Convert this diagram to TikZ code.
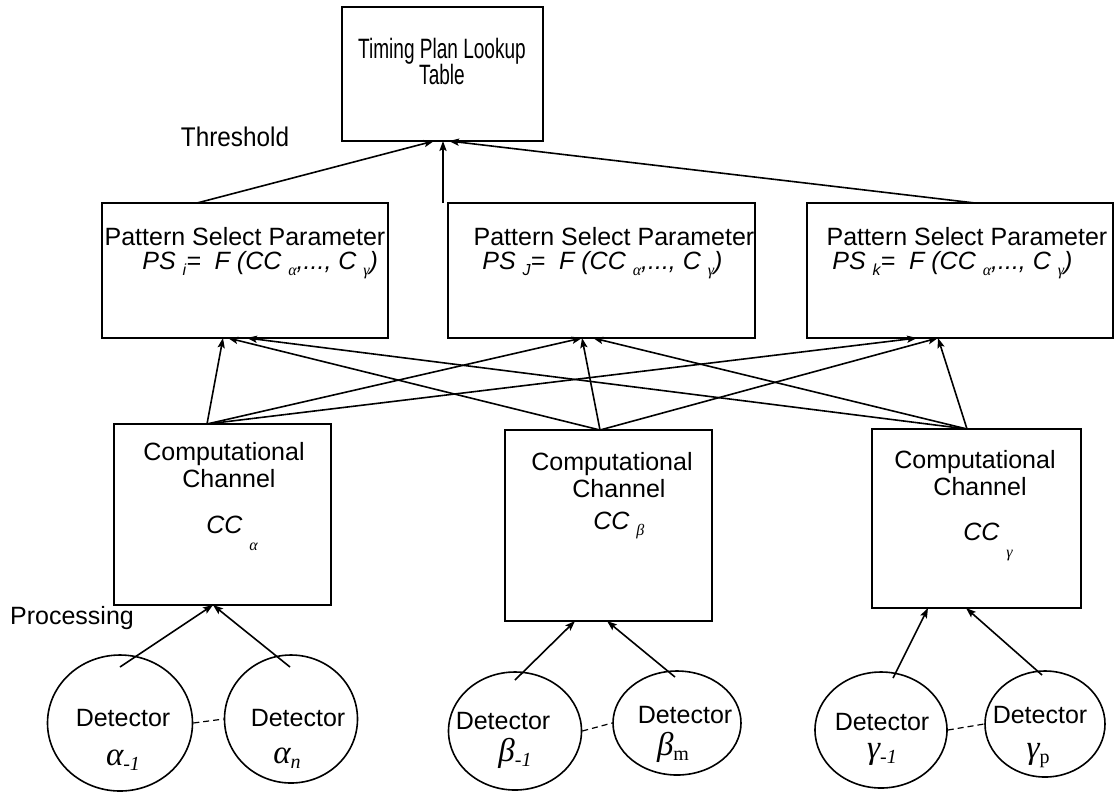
\documentclass[tikz,border=0pt]{standalone}
\usepackage{fontspec}
\setmainfont{Liberation Sans}
\newfontfamily\grk{Liberation Serif}
\newfontfamily\narrowfont[FakeStretch=0.68]{Liberation Sans}
\newfontfamily\semifont[FakeStretch=0.9]{Liberation Sans}
\usetikzlibrary{arrows.meta,shapes.geometric,fit}
\newcommand{\lo}[1]{\raisebox{-0.5ex}{\fontsize{8}{8}\selectfont #1}}
\newcommand{\llo}[1]{\raisebox{-1.3ex}{\fontsize{8}{8}\selectfont #1}}
\newcommand{\glo}[1]{\raisebox{-0.35ex}{\fontsize{10}{10}\selectfont #1}}
\begin{document}
\begin{tikzpicture}[x=0.5pt,y=-0.5pt,
  box/.style={draw,line width=0.9pt,inner sep=0pt,rectangle},
  det/.style={draw,line width=0.8pt,ellipse,inner sep=0pt},
  txt/.style={inner sep=0pt,anchor=base,font=\fontsize{12.5}{14}\selectfont},
  ftxt/.style={txt,anchor=base west,text height=8.5pt,text depth=1.5pt},
  gtxt/.style={inner sep=0pt,anchor=base,font=\fontsize{16.5}{17}\selectfont\grk\itshape},
  arr/.style={-{Stealth[length=5pt,width=3.6pt,inset=1pt]},line width=0.8pt},
  dashlink/.style={line width=0.6pt,dash pattern=on 3pt off 2pt}]
\useasboundingbox (0,0) rectangle (1118,794);

% top box
\node[box,fit={(342,7) (543,141)}] (tp) {};
\node[txt] (tpt1) at (442,58) {\narrowfont\fontsize{14}{15}\selectfont Timing Plan Lookup};
\node[txt] (tpt2) at (442,84) {\narrowfont\fontsize{14}{15}\selectfont Table};
\node[txt] (thr) at (235,146) {\semifont\fontsize{13.5}{14}\selectfont Threshold};

% pattern select boxes
\node[box,fit={(102,203) (388,338)}] (psi) {};
\node[box,fit={(448,203) (755,338)}] (psj) {};
\node[box,fit={(807,203) (1113,338)}] (psk) {};
\node[txt] (psi1) at (245,245) {Pattern Select Parameter};
\node[txt] (psj1) at (614,245) {Pattern Select Parameter};
\node[txt] (psk1) at (967,245) {Pattern Select Parameter};
\node[ftxt] (psi2) at (142,269) {\itshape PS \lo{i}=\ \ F (CC \lo{\grk α},..., C \lo{\grk γ})};
\node[ftxt] (psj2) at (482,269) {\itshape PS \lo{J}=\ \ F (CC \lo{\grk α},..., C \lo{\grk γ})};
\node[ftxt] (psk2) at (832,269) {\itshape PS \lo{k}=\ \ F (CC \lo{\grk α},..., C \lo{\grk γ})};

% computational channel boxes
\node[box,fit={(114,424) (331,605)}] (cca) {};
\node[box,fit={(505,430) (712,621)}] (ccb) {};
\node[box,fit={(872,429) (1081,608)}] (ccg) {};
\node[txt] (cca1) at (224,460) {Computational};
\node[txt] (cca2) at (229,487) {Channel};
\node[txt,anchor=base west] (cca3) at (206,533) {\itshape CC \llo{\grk α}};
\node[txt] (ccb1) at (612,470) {Computational};
\node[txt] (ccb2) at (619,497) {Channel};
\node[txt,anchor=base west] (ccb3) at (593,529) {\itshape CC \lo{\grk β}};
\node[txt] (ccg1) at (975,468) {Computational};
\node[txt] (ccg2) at (980,495) {Channel};
\node[txt,anchor=base west] (ccg3) at (963,540) {\itshape CC \llo{\grk γ}};

% detectors
\node[det,minimum width=72.5pt,minimum height=68pt] (da1) at (120,723) {};
\node[det,minimum width=66.5pt,minimum height=64pt] (dan) at (291,719) {};
\node[det,minimum width=66.5pt,minimum height=59pt] (db1) at (515,731) {};
\node[det,minimum width=64pt,minimum height=52pt] (dbm) at (677,723) {};
\node[det,minimum width=66pt,minimum height=58pt] (dg1) at (881,730) {};
\node[det,minimum width=60pt,minimum height=53pt] (dgp) at (1045,724) {};
\node[txt] (da1t) at (123,726) {Detector};
\node[gtxt] (da1s) at (123,765) {α\glo{-1}};
\node[txt] (dant) at (298,726) {Detector};
\node[gtxt] (dans) at (287,763) {α\glo{n}};
\node[txt] (db1t) at (503,729) {Detector};
\node[gtxt] (db1s) at (515,761) {β\glo{-1}};
\node[txt] (dbmt) at (685,723) {Detector};
\node[gtxt] (dbms) at (673,755) {β\glo{\upshape m}};
\node[txt] (dg1t) at (882,730) {Detector};
\node[gtxt] (dg1s) at (882,758) {γ\glo{-1}};
\node[txt] (dgpt) at (1040,723) {Detector};
\node[gtxt] (dgps) at (1038,758) {γ\glo{\upshape p}};
\node[txt] (proc) at (72,624) {Processing};

% ports
\coordinate (tpa) at (434,141);
\coordinate (tpb) at (443,141);
\coordinate (tpc) at (449,141);
\coordinate (psitop) at (197,203);
\coordinate (psjtop) at (443,203);
\coordinate (psktop) at (975,203);
\coordinate (pia) at (223,338);
\coordinate (pib) at (228,338);
\coordinate (pic) at (247,338);
\coordinate (pja) at (582,338);
\coordinate (pjb) at (593,338);
\coordinate (pka) at (917,338);
\coordinate (pkb) at (938,338);
\coordinate (catop) at (207,424);
\coordinate (cbtop) at (600,430);
\coordinate (cgtop) at (967,429);
\coordinate (cabot) at (213,605);
\coordinate (cbbot1) at (575,621);
\coordinate (cbbot2) at (607,621);
\coordinate (cgbot1) at (928,608);
\coordinate (cgbot2) at (966,608);
\coordinate (da1p) at (120,667);
\coordinate (danp) at (290,667);
\coordinate (db1p) at (515,680);
\coordinate (dbmp) at (675,677);
\coordinate (dg1p) at (893,678);
\coordinate (dgpp) at (1042,675);

% PS -> top
\draw[arr] (psitop) -- (tpa);
\draw[arr] (psjtop) -- (tpb);
\draw[arr] (psktop) -- (tpc);

% CC -> PS
\draw[arr] (catop) -- (pia);
\draw[arr] (catop) -- (pja);
\draw[arr] (catop) -- (pka);
\draw[arr] (cbtop) -- (pib);
\draw[arr] (cbtop) -- (pja);
\draw[arr] (cbtop) -- (pkb);
\draw[arr] (cgtop) -- (pic);
\draw[arr] (cgtop) -- (pjb);
\draw[arr] (cgtop) -- (pkb);

% detectors -> CC
\draw[arr] (da1p) -- (cabot);
\draw[arr] (danp) -- (cabot);
\draw[arr] (db1p) -- (cbbot1);
\draw[arr] (dbmp) -- (cbbot2);
\draw[arr] (dg1p) -- (cgbot1);
\draw[arr] (dgpp) -- (cgbot2);

% dashed links
\draw[dashlink] (da1.east) -- (dan.west);
\draw[dashlink] (db1.east) -- (dbm.west);
\draw[dashlink] (dg1.east) -- (dgp.west);
\end{tikzpicture}
\end{document}
